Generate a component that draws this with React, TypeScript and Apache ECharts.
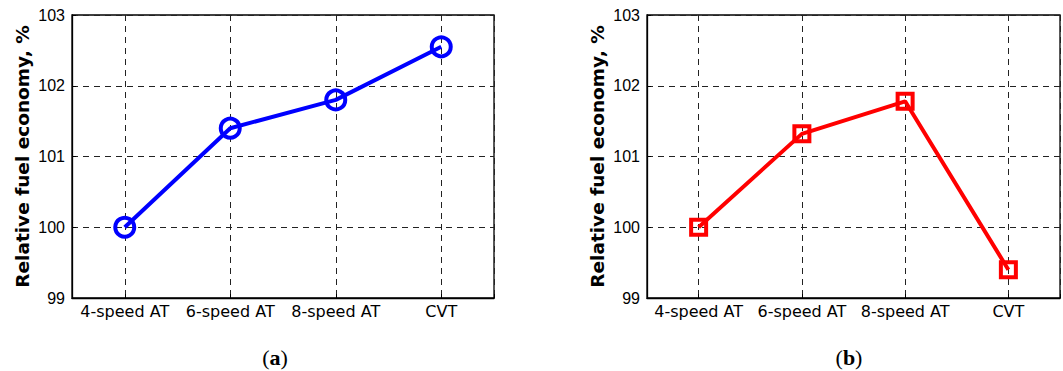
import React, { useEffect, useRef } from "react";
import * as echarts from "echarts";

const categories = ["4-speed AT", "6-speed AT", "8-speed AT", "CVT"];
const seriesA = [100, 101.4, 101.8, 102.55];
const seriesB = [100, 101.32, 101.78, 99.4];
const yMin = 99;
const yMax = 103;
const panelLabels = ["a", "b"];

const FONT = "Liberation Sans, Arial, sans-serif";
const WIDE = "DejaVu Sans, sans-serif";

function makeXAxis(gridIndex: number) {
  return {
    type: "value",
    gridIndex,
    min: 0.5,
    max: categories.length + 0.5,
    splitNumber: categories.length,
    axisLine: { show: true, lineStyle: { color: "#000", width: 1.3 } },
    axisTick: { show: true, inside: true, length: 4, lineStyle: { color: "#000" } },
    axisLabel: {
      show: true,
      color: "#000",
      fontFamily: WIDE,
      fontSize: 16,
      margin: 5,
      showMinLabel: true,
      showMaxLabel: true,
      formatter: (v: number) => (Number.isInteger(v) && v >= 1 && v <= categories.length ? categories[v - 1] : ""),
    },
    splitLine: { show: true, lineStyle: { color: "#222", type: [6, 5], width: 1 } },
  };
}

function makeYAxis(gridIndex: number) {
  return {
    type: "value",
    gridIndex,
    min: yMin,
    max: yMax,
    interval: 1,
    name: "Relative fuel economy, %",
    nameLocation: "middle",
    nameRotate: 90,
    nameGap: 40,
    nameTextStyle: { color: "#000", fontFamily: WIDE, fontSize: 18.5, fontWeight: "bold" },
    axisLine: { show: true, lineStyle: { color: "#000", width: 1.3 } },
    axisTick: { show: true, inside: true, length: 4, lineStyle: { color: "#000" } },
    axisLabel: { color: "#000", fontFamily: FONT, fontSize: 16, margin: 7 },
    splitLine: { show: true, lineStyle: { color: "#222", type: [6, 5], width: 1 } },
  };
}

export default function App() {
  const ref = useRef<HTMLDivElement>(null);
  useEffect(() => {
    if (!ref.current) return;
    const chart = echarts.init(ref.current, undefined, { renderer: "svg" });
    const grids = [
      { left: 72, top: 15, width: 422, height: 283 },
      { left: 647, top: 15, width: 423, height: 283 },
    ];
    chart.setOption({
      animation: false,
      backgroundColor: "#fff",
      grid: grids.map((g) => ({ ...g, show: true, borderColor: "#000", borderWidth: 1.3, containLabel: false })),
      xAxis: [makeXAxis(0), makeXAxis(1)],
      yAxis: [makeYAxis(0), makeYAxis(1)],
      series: [
        {
          type: "line",
          xAxisIndex: 0,
          yAxisIndex: 0,
          data: seriesA.map((v, i) => [i + 1, v]),
          lineStyle: { color: "#0000ff", width: 4 },
          symbol: "circle",
          symbolSize: 19,
          itemStyle: { color: "rgba(0,0,0,0)", borderColor: "#0000ff", borderWidth: 4 },
          z: 5,
        },
        {
          type: "line",
          xAxisIndex: 1,
          yAxisIndex: 1,
          data: seriesB.map((v, i) => [i + 1, v]),
          lineStyle: { color: "#ff0000", width: 4 },
          symbol: "rect",
          symbolSize: 15,
          itemStyle: { color: "rgba(0,0,0,0)", borderColor: "#ff0000", borderWidth: 4 },
          z: 5,
        },
      ],
      graphic: [
        { x: 275, y: 357, label: panelLabels[0] },
        { x: 849, y: 357, label: panelLabels[1] },
      ].map((p) => ({
        type: "text",
        x: p.x,
        y: p.y,
        style: {
          text: "{n|(}{b|" + p.label + "}{n|)}",
          align: "center",
          verticalAlign: "middle",
          rich: {
            n: { fontFamily: "Liberation Serif, serif", fontSize: 22, fill: "#000" },
            b: { fontFamily: "Liberation Serif, serif", fontSize: 22, fontWeight: "bold", fill: "#000" },
          },
        },
      })),
    });
    return () => chart.dispose();
  }, []);
  return (
    <div
      ref={ref}
      style={{ position: "fixed", left: 0, top: 0, width: 1063, height: 371, background: "#fff" }}
    />
  );
}
